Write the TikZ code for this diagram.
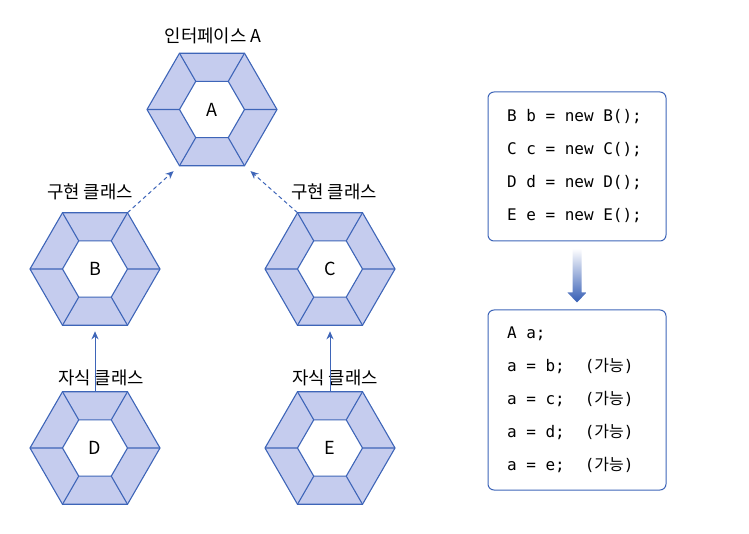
\documentclass[tikz,border=0pt]{standalone}
\usepackage{fontspec}
\setmainfont{Noto Sans CJK KR}
\newfontfamily\codefont{DejaVu Sans Mono}
\newfontfamily\kr{Noto Sans CJK KR}
\usetikzlibrary{shapes.geometric,arrows.meta,calc}
\definecolor{hexfill}{RGB}{197,204,238}
\definecolor{hexline}{RGB}{62,101,184}
\definecolor{arrowblue}{RGB}{52,92,180}

\begin{document}
\begin{tikzpicture}[x=1pt,y=-1pt,
  outerhex/.style = {regular polygon, regular polygon sides=6, minimum size=130pt, inner sep=0pt, outer sep=0pt, draw=hexline, fill=hexfill, line width=1.1pt},
  innerhex/.style = {regular polygon, regular polygon sides=6, minimum size=65pt, inner sep=0pt, outer sep=0pt, draw=hexline, fill=white, line width=1.1pt, font=\fontsize{18}{21}\selectfont},
  caption/.style = {font=\fontsize{17.8}{20}\selectfont},
  codebox/.style = {draw=hexline, rounded corners=6pt, line width=1pt, text width=140pt, inner xsep=19pt, align=flush left, font=\codefont\fontsize{16}{33}\selectfont},
  inherit/.style = {draw=hexline, line width=1pt, -{Stealth[length=8pt,width=7pt]}, shorten >=6pt},
  implement/.style = {inherit, dash pattern=on 4pt off 3pt, shorten >=8pt}]
\useasboundingbox (0,0) rectangle (749,534);

% hexagons
\foreach \n/\x/\y in {A/212/109.5, B/95/269, C/330/269, D/95/448, E/330/448} {
  \node[outerhex] (h\n) at (\x,\y) {};
  \node[innerhex] (i\n) at (\x,\y) {\n};
  \foreach \a in {0,60,...,300}
    \draw[hexline, line width=1.1pt] (i\n.\a) -- (h\n.\a);
}

\node[caption] (capA) at (213,36) {인터페이스 A};
\node[caption] (capB) at (90,192) {구현 클래스};
\node[caption] (capC) at (334,192) {구현 클래스};
\node[caption] (capD) at (101,378) {자식 클래스};
\node[caption] (capE) at (335,378) {자식 클래스};

\draw[implement] (hB.60) -- (hA.240);
\draw[implement] (hC.120) -- (hA.300);
\draw[inherit] (hD.90) -- (hB.270);
\draw[inherit] (hE.90) -- (hC.270);

% code boxes
\node[codebox, minimum height=149pt] (code1) at (577,166.5)
  {B b = new B();\\C c = new C();\\D d = new D();\\E e = new E();};
\node[codebox, minimum height=180pt] (code2) at (577,400)
  {A a;\\
   a = b;\hspace{20pt}({\kr 가능})\\
   a = c;\hspace{20pt}({\kr 가능})\\
   a = d;\hspace{20pt}({\kr 가능})\\
   a = e;\hspace{20pt}({\kr 가능})};

\shade[top color=white, bottom color=arrowblue]
  ($(code1.south)+(-4.5,7)$) -- ($(code1.south)+(4.5,7)$)
  -- ($(code2.north)+(4.5,-17)$) -- ($(code2.north)+(9.5,-17)$)
  -- ($(code2.north)+(0,-7)$)
  -- ($(code2.north)+(-9.5,-17)$) -- ($(code2.north)+(-4.5,-17)$) -- cycle;
\end{tikzpicture}
\end{document}
